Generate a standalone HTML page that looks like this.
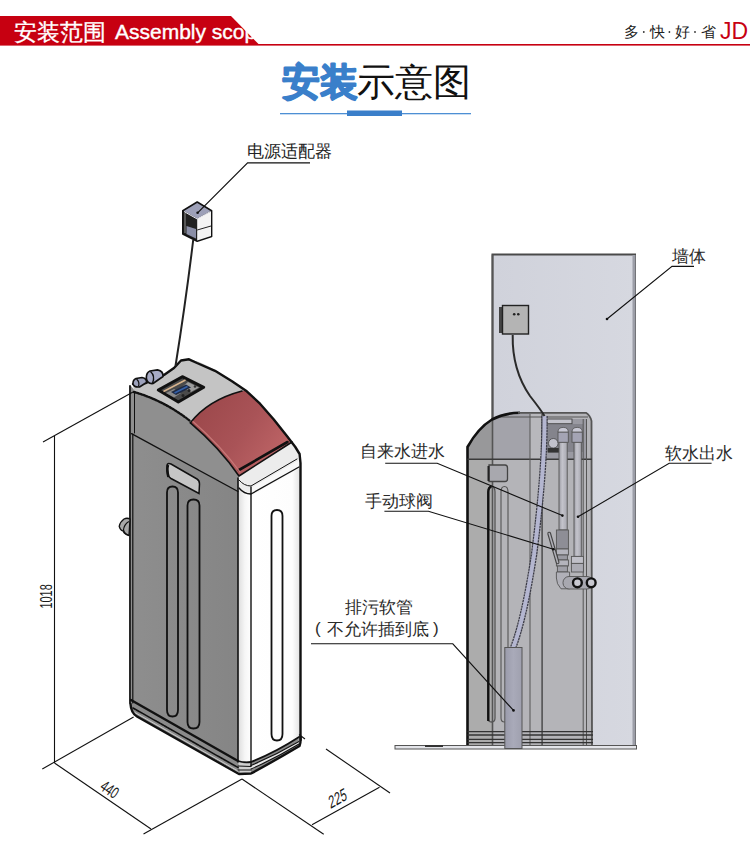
<!DOCTYPE html>
<html><head><meta charset="utf-8">
<style>
html,body{margin:0;padding:0;background:#fff;}
body{width:750px;height:866px;overflow:hidden;position:relative;font-family:"Liberation Sans",sans-serif;}
svg{position:absolute;left:0;top:0;}
</style></head><body>
<svg width="750" height="866" viewBox="0 0 750 866" font-family="Liberation Sans, sans-serif">
<!-- header -->
<rect x="0" y="16" width="260" height="29" fill="#c70011"/>
<text x="14" y="39.5" font-size="22.5" fill="#fff" stroke="#fff" stroke-width="0.3">安装范围</text>
<text x="115" y="39.3" font-size="21" fill="#fff" stroke="#fff" stroke-width="0.4">Assembly scope</text>
<polygon points="230,15 760,15 760,44 258.5,44" fill="#fff"/>
<rect x="0" y="44" width="750" height="1.6" fill="#c70011"/>
<g font-size="14.5" fill="#222"><text x="624" y="37">多</text><text x="649.5" y="37">快</text><text x="675" y="37">好</text><text x="700.5" y="37">省</text></g>
<g fill="#333"><circle cx="643.8" cy="32" r="0.9"/><circle cx="669.4" cy="32" r="0.9"/><circle cx="695" cy="32" r="0.9"/></g>
<text x="720" y="39" font-size="23" fill="#c70011">JD</text>
<!-- title -->
<text x="282" y="95" font-size="37.5" font-weight="bold" fill="#3a7fca" stroke="#3a7fca" stroke-width="1.6" stroke-linejoin="round">安装</text>
<text x="357" y="95" font-size="37.5" fill="#111">示意图</text>
<rect x="280" y="113" width="191" height="1.3" fill="#4d8fd4"/>
<rect x="347" y="110.5" width="55" height="5.5" fill="#3a7fca"/>

<!-- LEFT PRODUCT -->
<defs>
<linearGradient id="whiteface" x1="237" x2="302" y1="0" y2="0" gradientUnits="userSpaceOnUse">
<stop offset="0" stop-color="#d8d8d8"/><stop offset="0.12" stop-color="#f6f6f6"/><stop offset="0.22" stop-color="#ffffff"/><stop offset="0.85" stop-color="#fdfdfd"/><stop offset="1" stop-color="#dcdcdc"/>
</linearGradient>
<linearGradient id="redlid" x1="190" x2="292" y1="400" y2="470" gradientUnits="userSpaceOnUse">
<stop offset="0" stop-color="#9a4649"/><stop offset="0.5" stop-color="#a95357"/><stop offset="1" stop-color="#c56a6b"/>
</linearGradient>
<linearGradient id="grayface" x1="131" x2="238" y1="0" y2="0" gradientUnits="userSpaceOnUse">
<stop offset="0" stop-color="#8e8e8e"/><stop offset="1" stop-color="#858585"/>
</linearGradient>
</defs>
<g id="left">
<!-- left face (gray) -->
<path d="M131,386 L136,392 L165,403 L190,422 Q215,444 239,476 L238,762 L131,702 Z" fill="url(#grayface)"/>
<!-- lid side slightly lighter -->
<path d="M131,392 L136,392 Q165,401 190,422 Q215,444 239,476 L238,491.5 L131,433.6 Z" fill="#8f8f8f"/>
<!-- right white face -->
<path d="M238,478 L292,442 L299,452 L301,466 L300,739 L250,766 L238,762 Z" fill="url(#whiteface)"/>
<!-- light top -->
<path d="M133,384.5 L146,383 L164,375 L174,368 L181,360.5 L189,359.3 Q205,362 232,381 L246,390.7 L242,391 Q208,400 190.4,422.8 Q165,401 134,392 Z" fill="#c4c4c4"/>
<!-- red lid -->
<path d="M190.4,422.8 Q208,400 242,391 L246,390.7 L260,403.7 L273.6,419.3 L287.5,436.7 L292,443 L239,476 Q220,448 190.4,422.8 Z" fill="url(#redlid)"/>
<!-- white lid front band -->
<path d="M239,476 L292,442 L299,452 L301,466 L251,494 L239,488 Z" fill="#ececec"/>
<path d="M251,488 L299,460 L300,468 L251,496 Z" fill="#f8f8f8"/>
<!-- base band -->
<path d="M130.5,700 L238,761 L251,762 Q276,752 298.5,737 L299.5,746 Q276,760 251,773 L240,773 L136,716 Q131,712 130.5,706 Z" fill="#8a8a8a"/>
<path d="M238,761 L251,762 L251,773 L240,773 Z" fill="#d0d0d0"/>
<path d="M251,765 Q276,755 299,741 L299,744 Q276,758 251,769 Z" fill="#e8e8e8"/>
<!-- outlines -->
<g fill="none" stroke="#111" stroke-linejoin="round" stroke-linecap="round">
<path d="M130,386 L130,703" stroke-width="1.8"/>
<path d="M132.8,434 L132.8,703" stroke-width="1.2"/>
<path d="M133,384 L146,383 L164,375 L174,368 L181,360.5 L189,359.3 L197,363 L215,370.8 L232,381.2 L246,390.7 L260,403.7 L273.6,419.3 L287.5,436.7 L295.3,447 L299.6,454 L300.5,463 L300.5,740" stroke-width="2.4"/>
<path d="M190.4,422.8 Q208,400 242,391" stroke-width="1.6"/>
<path d="M190.4,422.8 Q220,448 239,476 L292,442" stroke-width="1.6"/>
<path d="M239,470 L287.5,442" stroke-width="2.6"/>
<path d="M134,392 Q165,401 190,421" stroke-width="2.4" stroke-dasharray="2,1.2"/>
<path d="M239,480 Q244,486 251,486 L297,459" stroke-width="1"/>
<path d="M239,488 Q244,494 251,494 L299,467" stroke-width="1.3"/>
<path d="M131.5,433.6 L238,491.5" stroke-width="1.3"/>
<path d="M134.5,392 L134.5,433" stroke-width="1"/>
<path d="M193,421.5 Q221,446 240,472" stroke="#c87878" stroke-width="1.2"/>
<path d="M238,478 L238,762" stroke-width="1.6"/>
<path d="M251,487 L251,766" stroke-width="1.4"/>
<!-- base -->
<path d="M131,700 L238,761" stroke-width="2.4"/>
<path d="M133,708 L238,767.5" stroke-width="1.6" stroke-dasharray="3,1"/>
<path d="M134,712 L238,771" stroke-width="1" stroke="#ccc"/>
<path d="M130.5,704 Q131,713 137,716.5 L239,774 L251,773.5 Q276,760 299.5,746 Q301,742 300.5,737" stroke-width="2.4"/>
<path d="M238,761 Q244,763 251,762 Q276,752 299,737" stroke-width="1.8"/>
<path d="M251,765.4 Q276,755 299,741.5" stroke-width="1.1"/>
<path d="M251,769 Q276,758 299,744" stroke-width="1.1"/>
<path d="M238,766 L251,766.5" stroke-width="1"/>
<path d="M238,770 L251,770" stroke-width="1"/>
<!-- grooves -->
<path d="M167,710 L167,492.5 Q167,486.5 172.5,486.5 Q178,486.5 178,492.5 L178,710 Q178,716.5 172.5,716.5 Q167,716.5 167,710 Z" stroke-width="1.8"/>
<path d="M187.5,722 L187.5,505.5 Q187.5,499.5 193.5,499.5 Q199.5,499.5 199.5,505.5 L199.5,722 Q199.5,728.5 193.5,728.5 Q187.5,728.5 187.5,722 Z" stroke-width="1.8"/>
<path d="M271.5,734 L271.5,516 Q271.5,510 277,510 Q282.5,510 282.5,516 L282.5,734 Q282.5,740.5 277,740.5 Q271.5,740.5 271.5,734 Z" stroke-width="1.8"/>
</g>
<!-- handle -->
<path d="M167,466 Q167,462.5 171,464 L197,479 Q199.5,480.5 199.5,484 L199,493.5 L171,478.5 Q167.5,476.5 167.5,472 Z" fill="#c6c6c6" stroke="#111" stroke-width="1.5"/>
<path d="M168,465 Q166.5,470 168.5,477" stroke="#111" stroke-width="2.6" fill="none"/>
<!-- control panel -->
<path d="M158.3,390 L182.3,376.7 L203.7,387.3 L178.3,402 Z" fill="#4a4a4a" stroke="#111" stroke-width="3" stroke-linejoin="round"/>
<path d="M188,382 L199,387.5 L191,392 L182,387 Z" fill="#9c9c9c"/>
<path d="M166,393 L174,389 L181,393 L174,397.5 Z" fill="#8a8a8a"/>
<path d="M171,392 L186,384.5 L191,387.5 L176,395 Z" fill="#1e2a44"/>
<path d="M174.5,393 L187.5,386.5" stroke="#3560a8" stroke-width="1.8"/>
<path d="M163.5,391.5 L185.5,380" stroke="#d8b48e" stroke-width="1.5"/>
<circle cx="189" cy="390.5" r="1.5" fill="#222"/>
<circle cx="183" cy="395.5" r="1.5" fill="#222"/>
<circle cx="195" cy="386.5" r="1.3" fill="#333"/>
<!-- knobs -->
<path d="M136,378.5 L142,377.5 Q147,378.5 146.5,382.5 L139.5,387 Q134,387.5 133,384 Q132.8,379.8 136,378.5 Z" fill="#9da2bc" stroke="#111" stroke-width="1.6" stroke-linejoin="round"/>
<path d="M136.5,379 Q140,382 138.5,386.5" stroke="#111" stroke-width="1.2" fill="none"/>
<path d="M150,371 L157.5,369.8 Q163.5,371 163,376.5 L153,383.5 Q147,384 146.3,378 Q146.3,372.5 150,371 Z" fill="#a8acc6" stroke="#111" stroke-width="1.7" stroke-linejoin="round"/>
<path d="M150.5,371.5 Q155.5,376 152.5,383" stroke="#111" stroke-width="1.4" fill="none"/>
<path d="M130,519 Q127,517.5 124,519 Q120,522 119.2,526.3 Q120,530 123,531 Q125,535 129,535.5 Z" fill="#a8a8a8" stroke="#111" stroke-width="1.3" stroke-linejoin="round"/>
<path d="M128.8,521.5 Q124,524.5 123.5,530 Q124.5,534 128.5,535" stroke="#111" stroke-width="1.2" fill="none"/>
<!-- adapter -->
<path d="M182.8,210.8 L197.2,202 L211.6,210.8 L211.6,236.4 L197.2,241.2 L182.8,234 Z" fill="#202020" stroke="#111" stroke-width="1.6" stroke-linejoin="round"/>
<path d="M197.2,218.8 L211,211.5 L211,236 L197.2,240.5 Z" fill="#f4f4f4"/>
<path d="M197.2,230 L211,226" stroke="#222" stroke-width="1"/>
<path d="M184,211 L197.2,203 L210.5,211 L197.2,218.5 Z" fill="#9da0b8"/>
<path d="M184,211.5 L197.2,219 L210.5,211.5" stroke="#e8e8f0" stroke-width="1" fill="none"/>
<path d="M186.5,226 L196,229 L196,238.5 L186.5,234 Z" fill="#8a8ea6"/>
<path d="M185,213 L185,233" stroke="#aaa" stroke-width="0.8"/>
<path d="M193.2,240 Q186,300 175.5,366" stroke="#222" stroke-width="2" fill="none"/>
</g>
<!-- leader & labels left -->
<g stroke="#111" fill="none" stroke-width="1.2">
<path d="M310,162.8 L247.6,162.8 L197.6,212.8"/>
</g>
<text x="246.5" y="156.5" font-size="17.2" fill="#222">电源适配器</text>
<circle cx="197.6" cy="212.8" r="1.3" fill="#111"/>
<!-- dimension lines -->
<g stroke="#111" fill="none" stroke-width="1.1">
<path d="M43,442 L133,392"/>
<path d="M54.5,436 L54.5,763"/>
<path d="M42.3,769 L133.6,717"/>
<path d="M54.5,763 L151,829"/>
<path d="M242,779 L143.5,834"/>
<path d="M242,779 L323.7,834.3"/>
<path d="M312,824.7 L379.5,787.3"/>
<path d="M299,734.5 L305,739"/>
<path d="M326,749 L390,793"/>
</g>
<g font-size="16.5" fill="#1a1a1a">
<text transform="translate(51.6,608.5) rotate(-90) scale(0.66,1)">1018</text>
<text transform="translate(99,789) matrix(0.825,0.565,-0.565,0.825,0,0) scale(0.66,1)" text-anchor="start" x="0" y="0">440</text>
<text transform="translate(330.5,809) matrix(0.866,-0.5,0.25,0.97,0,0) scale(0.72,1.06)">225</text>
</g>


<!-- RIGHT DIAGRAM -->
<defs>
<linearGradient id="wallg" x1="0" x2="1" y1="0" y2="0">
<stop offset="0" stop-color="#d0d2db"/><stop offset="1" stop-color="#d6d8e0"/>
</linearGradient>
<linearGradient id="pipeg" x1="0" x2="1" y1="0" y2="0">
<stop offset="0" stop-color="#9c9ca4"/><stop offset="0.4" stop-color="#c4c4cc"/><stop offset="1" stop-color="#a8a8b0"/>
</linearGradient>
<linearGradient id="tubeg" x1="0" x2="1" y1="0" y2="0">
<stop offset="0" stop-color="#9a9bab"/><stop offset="0.5" stop-color="#a9aab9"/><stop offset="1" stop-color="#9fa0ae"/>
</linearGradient>
</defs>
<g id="right">
<!-- wall -->
<rect x="492.5" y="254.5" width="142.5" height="493" fill="url(#wallg)" stroke="#4a4a4a" stroke-width="2"/>
<rect x="632.5" y="255" width="3" height="492" fill="#9c9ea8"/>
<!-- floor -->
<rect x="395" y="745.5" width="241.5" height="3.5" fill="#e4e5ea" stroke="#555" stroke-width="1"/>
<rect x="425" y="745" width="18" height="2" fill="#333"/>
<!-- product body -->
<path d="M467.5,745 L467.5,447 Q478,428 492,419.5 Q504,413 520,412.8 L586,412.8 Q590,415 591.5,421 L592,745 Z" fill="#b4b4b8"/>
<!-- lid part darker -->
<path d="M467.5,459.5 L467.5,447 Q478,428 492,419.5 Q504,413 520,412.8 L530,412.8 L530,459.5 Z" fill="#98989a"/>
<path d="M492,459.5 L492,419.5 Q504,413 520,412.8 L530,412.8 L530,459.5 Z" fill="#a3a3aa"/>
<path d="M467.5,459.5 L492,459.5 L492,745 L467.5,745 Z" fill="#acacac"/>
<path d="M530,413.5 L542,413.5 L542,459.5 L530,459.5 Z" fill="#b8b8bc"/>
<!-- top right inner dark block -->
<rect x="542" y="419" width="45" height="40" fill="#9a9aa2"/>
<rect x="547" y="424" width="36" height="28" fill="#84848c"/>
<rect x="546.8" y="419" width="25.2" height="4.7" fill="#c4c4cc" stroke="#444" stroke-width="0.9"/>
<circle cx="553.3" cy="443.3" r="4.8" fill="#c2c2cc" stroke="#444" stroke-width="0.8"/>
<rect x="547.7" y="448" width="11.3" height="4.6" fill="#333"/>
<path d="M500,417 L588,417" stroke="#555" stroke-width="1"/>
<!-- wall left edge visible through -->
<line x1="492.5" y1="254.5" x2="492.5" y2="745" stroke="#555" stroke-width="1.6"/>
<!-- outlines -->
<path d="M467.5,745 L467.5,447 Q478,428 492,419.5 Q504,413 520,412.8" fill="none" stroke="#111" stroke-width="2.6" stroke-linejoin="round"/>
<path d="M518,412.8 L586,412.8 Q590,415 591.5,421 L592,745" fill="none" stroke="#555" stroke-width="1.8"/>
<g fill="none" stroke="#555" stroke-width="1">
<line x1="467.5" y1="459.3" x2="592" y2="459.3" stroke="#3a3a3a" stroke-width="1.5"/>
<line x1="530" y1="414" x2="530" y2="745"/>
<line x1="542.1" y1="414" x2="542.1" y2="745" stroke="#444" stroke-width="1.4"/>
<line x1="583.2" y1="419" x2="583.2" y2="745"/>
<line x1="586.5" y1="419" x2="586.5" y2="745"/>
</g>
<!-- base rings -->
<g fill="none" stroke="#333" stroke-width="1.3">
<line x1="467.5" y1="731.7" x2="593" y2="731.7"/>
<line x1="467.5" y1="735" x2="593" y2="735"/>
<line x1="467.5" y1="739.3" x2="593" y2="739.3"/>
<line x1="467.5" y1="742.7" x2="593" y2="742.7"/>
</g>
<!-- grooves -->
<path d="M488,718 L488,492 Q488,486.5 491.5,486.5 Q495,486.5 495,492 L495,718 Q495,722 491.5,722 Q488,722 488,718 Z" fill="none" stroke="#555" stroke-width="1.3"/>
<path d="M488.3,721 L488.3,492 Q488.5,487 491.5,486.8" fill="none" stroke="#111" stroke-width="2.4"/>
<path d="M501,718 L501,492 Q501,486.5 504.5,486.5 Q508,486.5 508,492 L508,718 Q508,722 504.5,722 Q501,722 501,718 Z" fill="none" stroke="#555" stroke-width="1.1"/>
<!-- handle -->
<path d="M489,465 L505,465 Q507.5,465 507.5,468 L507.5,479 Q507.5,481.5 505,481.5 L489,481.5 Z" fill="#a8a8ae" stroke="#444" stroke-width="1.3"/>
<path d="M488.5,466 L488.5,481" stroke="#222" stroke-width="2"/>
<!-- pipes -->
<g stroke="#555" stroke-width="0.9">
<rect x="559" y="442" width="8.2" height="88" fill="url(#pipeg)"/>
<rect x="574" y="442" width="7.3" height="114.4" fill="url(#pipeg)"/>
<rect x="558" y="432" width="10.3" height="10.3" fill="#a4a4b4"/>
<rect x="572" y="432" width="10.3" height="10.3" fill="#a4a4b4"/>
<rect x="556.4" y="530" width="12" height="19" fill="#8e8e96"/>
<rect x="556.4" y="549" width="12" height="6" fill="#b4b4bc"/>
<rect x="557.4" y="555" width="10" height="5" fill="#9a9aa2"/>
<rect x="556.4" y="560" width="12" height="6" fill="#b4b4bc"/>
<rect x="557.4" y="566" width="10" height="6" fill="#a0a0a8"/>
<rect x="571.4" y="556.4" width="12" height="7" fill="#c0c0c8"/>
<rect x="571.4" y="563.4" width="12" height="8.6" fill="#acacb4"/>
<path d="M556.4,572 L569.6,572 L569.6,588.8 L561,588.8 Q556.4,584 556.4,578 Z" fill="#b0b0b8"/>
<rect x="563" y="576.5" width="30" height="12.5" rx="6" fill="#a8a8b0"/>
</g>
<path d="M558,432 Q558,427.4 563.2,427.4 Q568.3,427.4 568.3,432 Z" fill="#c8c8d4" stroke="#555" stroke-width="0.8"/>
<path d="M572,432 Q572,427.4 577.2,427.4 Q582.3,427.4 582.3,432 Z" fill="#c8c8d4" stroke="#555" stroke-width="0.8"/>
<circle cx="577.4" cy="582.8" r="4.4" fill="#c8c8d0" stroke="#111" stroke-width="2.4"/>
<circle cx="591.2" cy="582.8" r="4.4" fill="#c8c8d0" stroke="#111" stroke-width="2.4"/>
<path d="M549.2,533.6 L557.6,562.4" stroke="#444" stroke-width="3.8" stroke-linecap="round"/>
<path d="M549.2,533.6 L557.6,562.4" stroke="#b0b0b8" stroke-width="1.6" stroke-linecap="round"/>
<!-- drain hose -->
<path d="M544.5,416 Q545,470 534,555 Q524,620 513,648" fill="none" stroke="#3c3c48" stroke-width="6.5" stroke-dasharray="2.2,0.7"/>
<path d="M544.5,416 Q545,470 534,555 Q524,620 513,648" fill="none" stroke="#b4b6d0" stroke-width="4"/>
<rect x="504.8" y="647.5" width="17.2" height="101" fill="url(#tubeg)" stroke="#555" stroke-width="1"/>
<!-- adapter on wall -->
<rect x="499" y="307" width="4" height="26" fill="#444"/>
<rect x="502.5" y="305.5" width="26" height="28.5" fill="#b4b4b4" stroke="#222" stroke-width="1.4"/>
<circle cx="514.2" cy="314.2" r="1.3" fill="#222"/><circle cx="518.3" cy="314.2" r="1.3" fill="#222"/>
<path d="M512.7,335 Q512,370 530,396 Q541,410 544.5,416" fill="none" stroke="#2a2a2a" stroke-width="2"/>
</g>
<!-- right leaders -->
<g stroke="#111" fill="none" stroke-width="1.1">
<path d="M694,266.4 L672,266.4 L607,319"/>
<path d="M385.2,463.3 L437.2,463.3 L562.4,515.6"/>
<path d="M384.4,511.3 L428.4,511.3 L553.4,549.2"/>
<path d="M711.6,463.3 L669.2,463.3 L578,516.8"/>
<path d="M311,643.8 L452.8,643.8 L513.5,710.4"/>
</g>
<g fill="#111"><circle cx="607" cy="319" r="1.3"/><circle cx="562.4" cy="515.6" r="1.3"/><circle cx="553.4" cy="549.2" r="1.3"/><circle cx="578" cy="516.8" r="1.3"/><circle cx="513.5" cy="710.4" r="1.3"/></g>
<g font-size="17.2" fill="#2a2a2a">
<text x="672" y="262">墙体</text>
<text x="359.5" y="457">自来水进水</text>
<text x="365" y="507">手动球阀</text>
<text x="665" y="458.5">软水出水</text>
<text x="344.5" y="613">排污软管</text>
<text x="326.5" y="634.5" font-size="16.8">不允许插到底</text>
<text x="315" y="634" font-size="17">(</text>
<text x="433" y="634" font-size="17">)</text>
</g>
</svg>
</body></html>
